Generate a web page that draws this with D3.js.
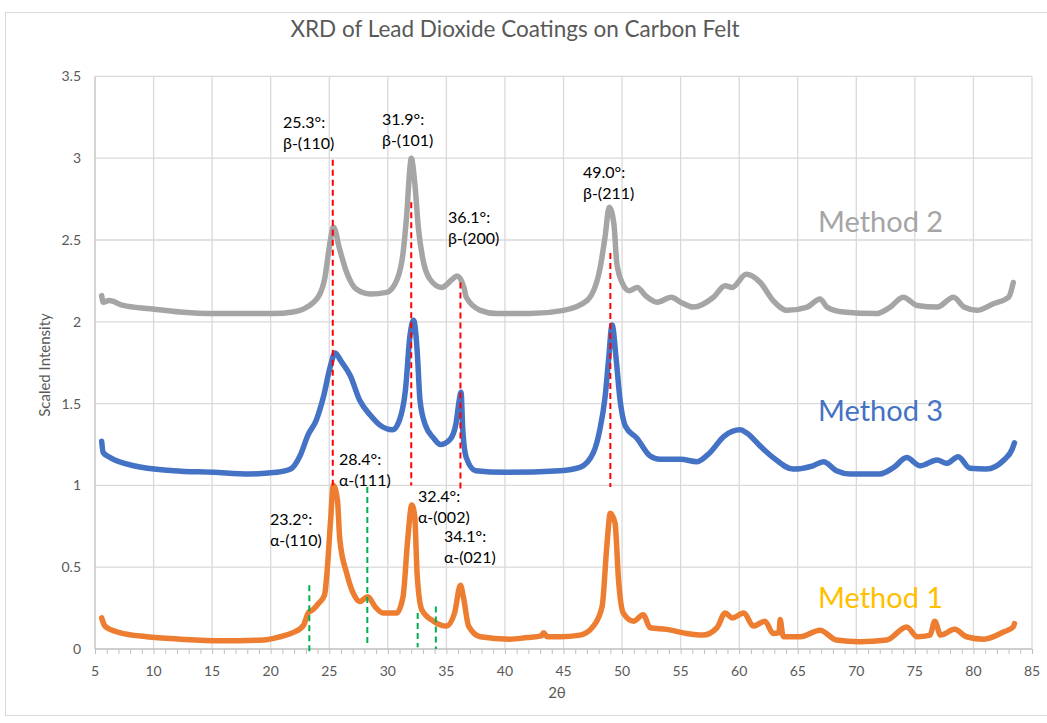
<!DOCTYPE html>
<html>
<head>
<meta charset="utf-8">
<script src="https://cdn.jsdelivr.net/npm/d3@7"></script>
<style>
    body { margin: 0; background: #fff; }
    text { font-family: Lato, "Open Sans", sans-serif; }
</style>
</head>
<body>
<script>
// Method 1 (orange)
const method1Theta = [5.57, 5.85, 7.1, 9.4, 12.3, 15.7, 19.4, 20.8, 21.9, 22.8, 23.2, 23.6, 24.1, 24.6, 24.8, 25.1, 25.35, 25.7, 25.9, 26.5, 27.2, 27.6, 28.3, 28.9, 29.6, 30.75, 31.3, 31.7, 32.05, 32.3, 32.5, 32.9, 33.9, 35.0, 35.7, 36.2, 36.45, 36.9, 37.9, 40.4, 41.9, 43.1, 43.3, 43.6, 44.7, 46.4, 47.55, 48.3, 48.7, 49.0, 49.4, 49.7, 50.1, 51.0, 51.8, 52.4, 53.8, 55.5, 56.9, 58.1, 58.8, 59.4, 60.4, 61.2, 62.2, 62.9, 63.4, 63.5, 63.7, 63.8, 65.2, 66.9, 68.3, 70.3, 72.6, 74.3, 75.2, 76.3, 76.7, 77.2, 78.4, 79.4, 80.9, 82.6, 83.4, 83.5];
const method1Intensity = [0.19, 0.14, 0.10, 0.075, 0.06, 0.05, 0.055, 0.075, 0.10, 0.145, 0.22, 0.24, 0.28, 0.33, 0.46, 0.77, 1.00, 0.91, 0.67, 0.46, 0.32, 0.29, 0.32, 0.26, 0.22, 0.22, 0.32, 0.67, 0.88, 0.81, 0.46, 0.24, 0.17, 0.14, 0.22, 0.39, 0.32, 0.14, 0.075, 0.06, 0.07, 0.08, 0.10, 0.075, 0.075, 0.085, 0.14, 0.26, 0.63, 0.83, 0.77, 0.42, 0.22, 0.17, 0.21, 0.13, 0.12, 0.095, 0.085, 0.13, 0.22, 0.19, 0.22, 0.14, 0.17, 0.095, 0.10, 0.18, 0.09, 0.075, 0.075, 0.115, 0.055, 0.045, 0.055, 0.135, 0.075, 0.085, 0.17, 0.085, 0.12, 0.075, 0.06, 0.105, 0.135, 0.155];

// Method 3 (blue)
const method3Theta = [5.57, 5.7, 6.3, 8.3, 11.7, 15.1, 18.2, 20.5, 21.7, 22.5, 23.2, 23.9, 24.5, 25.1, 25.5, 26.0, 26.8, 27.6, 28.5, 29.3, 30.4, 31.0, 31.5, 31.9, 32.2, 32.5, 32.75, 33.2, 33.9, 34.5, 35.3, 35.8, 36.1, 36.25, 36.4, 36.7, 37.5, 40.0, 44.7, 46.4, 47.55, 48.1, 48.55, 48.85, 49.15, 49.5, 49.8, 50.3, 51.25, 52.4, 53.25, 55.0, 56.4, 57.5, 58.7, 60.1, 60.65, 61.8, 62.9, 64.6, 66.3, 67.2, 68.3, 69.5, 72.0, 73.2, 74.3, 75.45, 76.9, 77.7, 78.7, 79.7, 81.1, 82.6, 83.3, 83.5];
const method3Intensity = [1.27, 1.20, 1.17, 1.12, 1.09, 1.08, 1.07, 1.08, 1.10, 1.18, 1.31, 1.40, 1.54, 1.73, 1.81, 1.76, 1.67, 1.52, 1.43, 1.37, 1.34, 1.40, 1.58, 1.92, 2.01, 1.83, 1.52, 1.37, 1.29, 1.25, 1.28, 1.37, 1.52, 1.57, 1.34, 1.17, 1.09, 1.08, 1.09, 1.11, 1.20, 1.34, 1.54, 1.77, 1.98, 1.77, 1.54, 1.36, 1.29, 1.18, 1.16, 1.16, 1.145, 1.20, 1.30, 1.34, 1.32, 1.24, 1.17, 1.10, 1.12, 1.145, 1.09, 1.07, 1.07, 1.11, 1.17, 1.12, 1.155, 1.135, 1.175, 1.105, 1.10, 1.155, 1.22, 1.26];

// Method 2 (gray)
const method2Theta = [5.57, 5.7, 6.2, 7.4, 9.7, 12.3, 15.1, 17.7, 20.2, 21.9, 23.1, 24.2, 24.6, 25.1, 25.35, 25.9, 26.5, 27.3, 28.5, 29.9, 30.8, 31.3, 31.6, 31.9, 32.0, 32.3, 32.6, 33.0, 33.6, 34.6, 35.5, 35.9, 36.5, 36.7, 37.9, 39.3, 42.1, 45.0, 47.0, 48.1, 48.55, 48.9, 49.3, 49.55, 50.0, 50.6, 51.3, 52.0, 53.0, 54.2, 55.0, 56.1, 57.8, 58.8, 59.4, 60.6, 61.8, 62.9, 64.1, 65.8, 66.9, 67.5, 68.9, 71.7, 72.9, 74.0, 75.2, 76.9, 78.3, 79.2, 80.3, 81.7, 83.0, 83.4];
const method2Intensity = [2.16, 2.12, 2.13, 2.10, 2.08, 2.06, 2.05, 2.05, 2.05, 2.06, 2.09, 2.17, 2.26, 2.50, 2.58, 2.44, 2.30, 2.20, 2.17, 2.18, 2.26, 2.42, 2.64, 2.95, 3.00, 2.85, 2.58, 2.38, 2.26, 2.21, 2.26, 2.28, 2.21, 2.15, 2.07, 2.05, 2.05, 2.07, 2.13, 2.32, 2.52, 2.70, 2.60, 2.36, 2.24, 2.19, 2.21, 2.16, 2.12, 2.15, 2.12, 2.09, 2.15, 2.22, 2.21, 2.29, 2.24, 2.13, 2.07, 2.09, 2.14, 2.09, 2.06, 2.05, 2.09, 2.15, 2.10, 2.09, 2.15, 2.09, 2.07, 2.11, 2.15, 2.24];

// peak markers: [2θ, low, high, label line 1, label line 2]
const betaPeaks = [
    [25.3, 1.0, 2.99, '25.3°:', 'β-(110)'],
    [32.0, 1.0, 2.73, '31.9°:', 'β-(101)'],
    [36.2, 0.97, 2.24, '36.1°:', 'β-(200)'],
    [49.0, 0.99, 2.42, '49.0°:', 'β-(211)']
];
const alphaPeaks = [
    [23.3, -0.03, 0.39, '23.2°:', 'α-(110)'],
    [28.25, 0.02, 0.99, '28.4°:', 'α-(111)'],
    [32.55, 0.01, 0.22, '32.4°:', 'α-(002)'],
    [34.1, 0.0, 0.26, '34.1°:', 'α-(021)']
];

const xTicks = d3.range(5, 86, 5);
const yTicks = d3.range(0, 3.51, 0.5);

const width = 1047;
const height = 723;

const svg = d3.select('body').append('svg')
    .attr('width', width)
    .attr('height', height);

// chart frame
svg.append('rect')
    .attr('x', 5.5)
    .attr('y', 12.5)
    .attr('width', 1060)
    .attr('height', 703)
    .attr('fill', '#fff')
    .attr('stroke', '#d9d9d9');

const x = d3.scaleLinear().domain([5, 85]).range([95, 1032]);
const y = d3.scaleLinear().domain([0, 3.5]).range([649, 76.4]);

// title
svg.append('text')
    .attr('x', 515)
    .attr('y', 37)
    .attr('text-anchor', 'middle')
    .attr('font-size', 22.5)
    .attr('fill', '#595959')
    .text('XRD of Lead Dioxide Coatings on Carbon Felt');

// gridlines
svg.selectAll('line.hgrid')
    .data(yTicks.filter(d => d > 0))
    .enter()
    .append('line')
    .attr('class', 'hgrid')
    .attr('x1', x(5))
    .attr('x2', x(85))
    .attr('y1', d => y(d))
    .attr('y2', d => y(d))
    .attr('stroke', '#d9d9d9')
    .attr('stroke-width', 1.3);

svg.selectAll('line.vgrid')
    .data(xTicks.filter(d => d > 5))
    .enter()
    .append('line')
    .attr('class', 'vgrid')
    .attr('x1', d => x(d))
    .attr('x2', d => x(d))
    .attr('y1', y(3.5))
    .attr('y2', y(0))
    .attr('stroke', '#d9d9d9')
    .attr('stroke-width', 1.3);

// x-axis with minor ticks
const xAxis = d3.axisBottom(x)
    .tickValues(d3.range(5, 86, 1))
    .tickSize(5)
    .tickFormat('');
const gx = svg.append('g')
    .attr('transform', `translate(0, ${y(0)})`)
    .call(xAxis);
gx.selectAll('line, path').attr('stroke', '#bfbfbf');
gx.select('.domain').attr('d', `M${x(5)},0H${x(85)}`).attr('stroke-width', 1.3);

svg.selectAll('text.xlabel')
    .data(xTicks)
    .enter()
    .append('text')
    .attr('class', 'xlabel')
    .attr('x', d => x(d))
    .attr('y', 676)
    .attr('text-anchor', 'middle')
    .attr('font-size', 14)
    .attr('fill', '#595959')
    .text(d => d);

// y-axis
svg.append('line')
    .attr('x1', x(5))
    .attr('x2', x(5))
    .attr('y1', y(3.5))
    .attr('y2', y(0))
    .attr('stroke', '#bfbfbf')
    .attr('stroke-width', 1.3);

svg.selectAll('text.ylabel')
    .data(yTicks)
    .enter()
    .append('text')
    .attr('class', 'ylabel')
    .attr('x', 81)
    .attr('y', d => y(d) + 5)
    .attr('text-anchor', 'end')
    .attr('font-size', 14)
    .attr('fill', '#595959')
    .text(d => d);

// axis titles
svg.append('text')
    .attr('transform', `translate(50, 365) rotate(-90)`)
    .attr('text-anchor', 'middle')
    .attr('font-size', 15)
    .attr('fill', '#595959')
    .text('Scaled Intensity');

svg.append('text')
    .attr('x', 557)
    .attr('y', 698)
    .attr('text-anchor', 'middle')
    .attr('font-size', 15)
    .attr('fill', '#595959')
    .text('2θ');

// series
const series = [
    { theta: method1Theta, intensity: method1Intensity, color: '#ED7D31' },
    { theta: method3Theta, intensity: method3Intensity, color: '#4472C4' },
    { theta: method2Theta, intensity: method2Intensity, color: '#A5A5A5' }
];

const line = d3.line()
    .x(d => x(d[0]))
    .y(d => y(d[1]))
    .curve(d3.curveMonotoneX);

series.forEach(s =>
{
    const pts = s.theta.map((t, i) => [t, s.intensity[i]]);
    svg.append('path')
        .datum(pts)
        .attr('d', line)
        .attr('fill', 'none')
        .attr('stroke', s.color)
        .attr('stroke-width', 5.5)
        .attr('stroke-linejoin', 'round')
        .attr('stroke-linecap', 'round');
});

// peak marker lines
function drawMarkers(peaks, color)
{
    svg.selectAll(null)
        .data(peaks)
        .enter()
        .append('line')
        .attr('x1', d => x(d[0]))
        .attr('x2', d => x(d[0]))
        .attr('y1', d => y(d[2]))
        .attr('y2', d => y(d[1]))
        .attr('stroke', color)
        .attr('stroke-width', 2)
        .attr('stroke-dasharray', '6 4');
}
drawMarkers(betaPeaks, '#FF0000');
drawMarkers(alphaPeaks, '#00B050');

// peak labels (left edge, first line baseline)
const labelPos = [
    [283, 128], [382, 125], [448, 223], [583, 178],
    [270, 525], [339, 465], [418, 502], [444, 542]
];
betaPeaks.concat(alphaPeaks).forEach((p, i) =>
{
    const t = svg.append('text')
        .attr('x', labelPos[i][0])
        .attr('y', labelPos[i][1])
        .attr('font-size', 16)
        .attr('fill', '#000');
    t.append('tspan').attr('x', labelPos[i][0]).text(p[3]);
    t.append('tspan').attr('x', labelPos[i][0]).attr('dy', 21).text(p[4]);
});

// method labels
const methodLabels = [
    ['Method 2', '#A5A5A5', 232],
    ['Method 3', '#4472C4', 421],
    ['Method 1', '#FFC000', 608]
];
svg.selectAll('text.method')
    .data(methodLabels)
    .enter()
    .append('text')
    .attr('class', 'method')
    .attr('x', 818)
    .attr('y', d => d[2])
    .attr('font-size', 29)
    .attr('fill', d => d[1])
    .text(d => d[0]);
</script>
</body>
</html>
